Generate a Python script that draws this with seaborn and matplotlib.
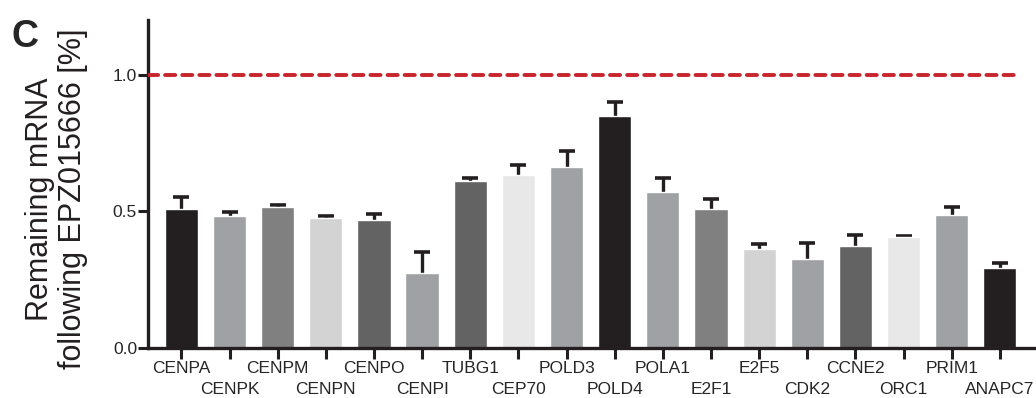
import numpy as np
import pandas as pd
import matplotlib
matplotlib.use("Agg")
import matplotlib.pyplot as plt
import seaborn as sns

genes = ["CENPA", "CENPK", "CENPM", "CENPN", "CENPO", "CENPI", "TUBG1", "CEP70", "POLD3",
         "POLD4", "POLA1", "E2F1", "E2F5", "CDK2", "CCNE2", "ORC1", "PRIM1", "ANAPC7"]
remaining = [0.509, 0.484, 0.516, 0.476, 0.469, 0.275, 0.612, 0.634, 0.663,
             0.850, 0.571, 0.509, 0.363, 0.326, 0.374, 0.406, 0.487, 0.293]
sem = [0.044, 0.014, 0.008, 0.008, 0.021, 0.077, 0.011, 0.036, 0.057,
       0.050, 0.052, 0.037, 0.018, 0.059, 0.040, 0.004, 0.029, 0.018]
bar_colors = ["#231f20", "#a0a1a4", "#808080", "#d3d3d3", "#636363", "#a0a1a4",
              "#636363", "#e8e8e8", "#a0a1a4", "#231f20", "#a0a1a4", "#808080",
              "#d3d3d3", "#a0a1a4", "#636363", "#e8e8e8", "#a0a1a4", "#231f20"]
ylabel_lines = ["Remaining mRNA", "following EPZ015666 [%]"]
reference_level = 1.0

sns.set_style("ticks")
plt.rcParams["font.family"] = ["Liberation Sans", "DejaVu Sans"]

df = pd.DataFrame({"gene": genes, "remaining": remaining, "sem": sem})

fig = plt.figure(figsize=(10.36, 3.98), dpi=100)
ax = fig.add_axes([0.143, 0.126, 0.857, 0.824])

sns.barplot(data=df, x="gene", y="remaining", hue="gene", palette=bar_colors,
            legend=False, width=0.69, saturation=1, errorbar=None, ax=ax)

# upper error bars only; hide the lower cap sitting on the bar top
_, caps, _ = ax.errorbar(np.arange(len(genes)), df["remaining"],
                         yerr=[np.zeros(len(genes)), df["sem"]],
                         fmt="none", ecolor="#231f20", elinewidth=2.4,
                         capsize=6, capthick=2.6, zorder=0.5)
caps[0].set_visible(False)

ax.plot([-0.69, 17.42], [reference_level, reference_level], color="#c8252d",
        lw=2.8, dashes=(2.6, 1.8), dash_capstyle="round", zorder=3)

ax.set_xlim(-0.69, 17.75)
ax.set_ylim(0, 1.2)
ax.set_yticks([0.0, 0.5, 1.0])
ax.set_yticklabels(["0.0", "0.5", "1.0"])
ax.set_xticks(range(len(genes)))
ax.set_xticklabels(genes, fontsize=12.5)
ax.tick_params(axis="y", labelsize=12.5, width=2.2, length=7, color="#231f20", pad=1)
ax.tick_params(axis="x", width=2.2, length=8, color="#231f20", pad=1.5)
# staggered two-row gene labels
for i, tick in enumerate(ax.xaxis.get_major_ticks()):
    if i % 2 == 1:
        tick.set_pad(16.5)
ax.set_xlabel("")
ax.set_ylabel("")
sns.despine(ax=ax)
for side in ["left", "bottom"]:
    ax.spines[side].set_linewidth(2.4)
    ax.spines[side].set_color("#231f20")

# two-line y label, one text per line
fig.text(0.0385, 0.5, ylabel_lines[0], rotation=90, ha="center", va="center",
         fontsize=22, color="#231f20")
fig.text(0.0705, 0.5, ylabel_lines[1], rotation=90, ha="center", va="center",
         fontsize=22, color="#231f20")
fig.text(0.011, 0.882, "C", fontsize=27, fontweight="bold", va="baseline", ha="left")

fig.savefig("out.png", dpi=100)
